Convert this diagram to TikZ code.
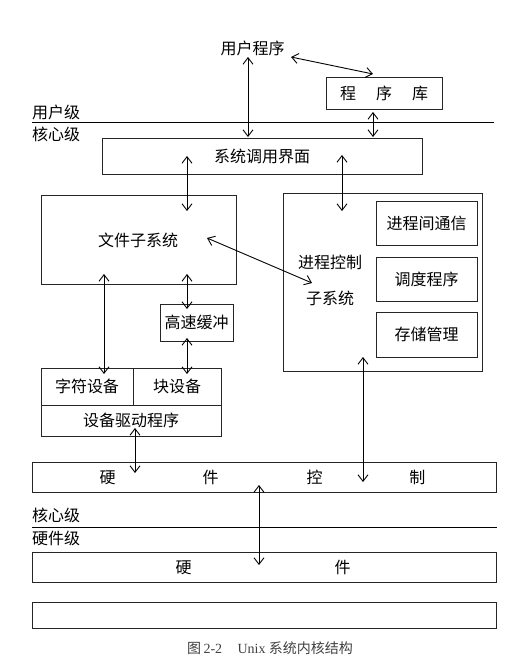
\documentclass[tikz,border=0pt]{standalone}
\usepackage{fontspec}
\setmainfont{Noto Sans CJK SC}
\newfontfamily\capserif{Liberation Serif}
\usetikzlibrary{arrows.meta}
\begin{document}
\begin{tikzpicture}[x=1pt,y=-1pt,
  box/.style={draw=black!85, line width=0.9pt, inner sep=0pt, font=\fontsize{16}{18}\selectfont},
  lbl/.style={inner sep=0pt, font=\fontsize{16}{18}\selectfont},
  arr/.style={line width=0.9pt, {Straight Barb[length=6.5pt,width=10pt]}-{Straight Barb[length=6.5pt,width=10pt]}},
  rule/.style={line width=0.9pt, black}]
\useasboundingbox (0,0) rectangle (530,662);

% text nodes
\node[lbl] (prog) at (252.5,48) {用户程序};
\node[box, minimum width=116pt, minimum height=32pt] (lib) at (384,93) {程\hspace{20pt}序\hspace{20pt}库};
\node[box, minimum width=320pt, minimum height=36pt] (sys) at (262,156) {系统调用界面};
\node[box, minimum width=195pt, minimum height=89pt] (file) at (138.5,239.5) {};
\node[lbl] (filet) at (138,240) {文件子系统};
\node[box, minimum width=199pt, minimum height=178pt] (proc) at (382.5,282) {};
\node[lbl] (proct1) at (330,262) {进程控制};
\node[lbl] (proct2) at (330,298) {子系统};
\node[box, minimum width=101pt, minimum height=44pt] (ipc) at (426.5,223) {进程间通信};
\node[box, minimum width=101pt, minimum height=44pt] (sched) at (426.5,279) {调度程序};
\node[box, minimum width=101pt, minimum height=45pt] (mem) at (426.5,334.5) {存储管理};
\node[box, minimum width=73pt, minimum height=37pt] (cache) at (196.5,322.5) {高速缓冲};
\node[box, minimum width=92pt, minimum height=37pt] (chardev) at (87,386.5) {字符设备};
\node[box, minimum width=88pt, minimum height=37pt] (blockdev) at (177,386.5) {块设备};
\node[box, minimum width=180pt, minimum height=31pt] (driver) at (131,420.5) {设备驱动程序};
\node[box, minimum width=464pt, minimum height=30pt] (hwctl) at (264,477) {};
\node[lbl] (hwctlt) at (262.5,477) {硬\hspace{87pt}件\hspace{88pt}控\hspace{87pt}制};
\node[box, minimum width=464pt, minimum height=30pt] (hw) at (264,567) {};
\node[lbl] (hwt) at (263,567) {硬\hspace{143pt}件};
\node[box, minimum width=464pt, minimum height=26pt] (empty) at (264,615) {};

% level labels and rules
\node[lbl, anchor=west] (ul) at (32,112) {用户级};
\node[lbl, anchor=west] (kl1) at (32,134) {核心级};
\coordinate (r1a) at (32,122); \coordinate (r1b) at (494,122);
\draw[rule] (r1a) -- (r1b);
\node[lbl, anchor=west] (kl2) at (32,515) {核心级};
\node[lbl, anchor=west] (hl) at (32,538) {硬件级};
\coordinate (r2a) at (32,527); \coordinate (r2b) at (497,527);
\draw[rule] (r2a) -- (r2b);

% connector end points
\coordinate (a1s) at (248,57);  \coordinate (a1e) at (248,137);
\coordinate (a2s) at (291,57);  \coordinate (a2e) at (373,74);
\coordinate (a3s) at (373,112); \coordinate (a3e) at (373,137);
\coordinate (a4s) at (187,156); \coordinate (a4e) at (187,211);
\coordinate (a5s) at (342,155); \coordinate (a5e) at (342,211);
\coordinate (a6s) at (207,238); \coordinate (a6e) at (312,283);
\coordinate (a7s) at (104,274); \coordinate (a7e) at (104,374);
\coordinate (a8s) at (187,274); \coordinate (a8e) at (187,309);
\coordinate (a9s) at (187,338); \coordinate (a9e) at (187,374);
\coordinate (a10s) at (135,428); \coordinate (a10e) at (135,473);
\coordinate (a11s) at (363,357); \coordinate (a11e) at (363,482);
\coordinate (a12s) at (259,485); \coordinate (a12e) at (259,565);

\draw[arr] (a1s) -- (a1e);
\draw[arr] (a2s) -- (a2e);
\draw[arr] (a3s) -- (a3e);
\draw[arr] (a4s) -- (a4e);
\draw[arr] (a5s) -- (a5e);
\draw[arr] (a6s) -- (a6e);
\draw[arr] (a7s) -- (a7e);
\draw[arr] (a8s) -- (a8e);
\draw[arr] (a9s) -- (a9e);
\draw[arr] (a10s) -- (a10e);
\draw[arr] (a11s) -- (a11e);
\draw[arr] (a12s) -- (a12e);

% caption
\node[inner sep=0pt, text=black!75, font=\fontsize{14}{16}\selectfont] (cap) at (270,648)
  {图\,{\capserif 2-2}\hspace{1.1em}{\capserif Unix} 系统内核结构};
\end{tikzpicture}
\end{document}
